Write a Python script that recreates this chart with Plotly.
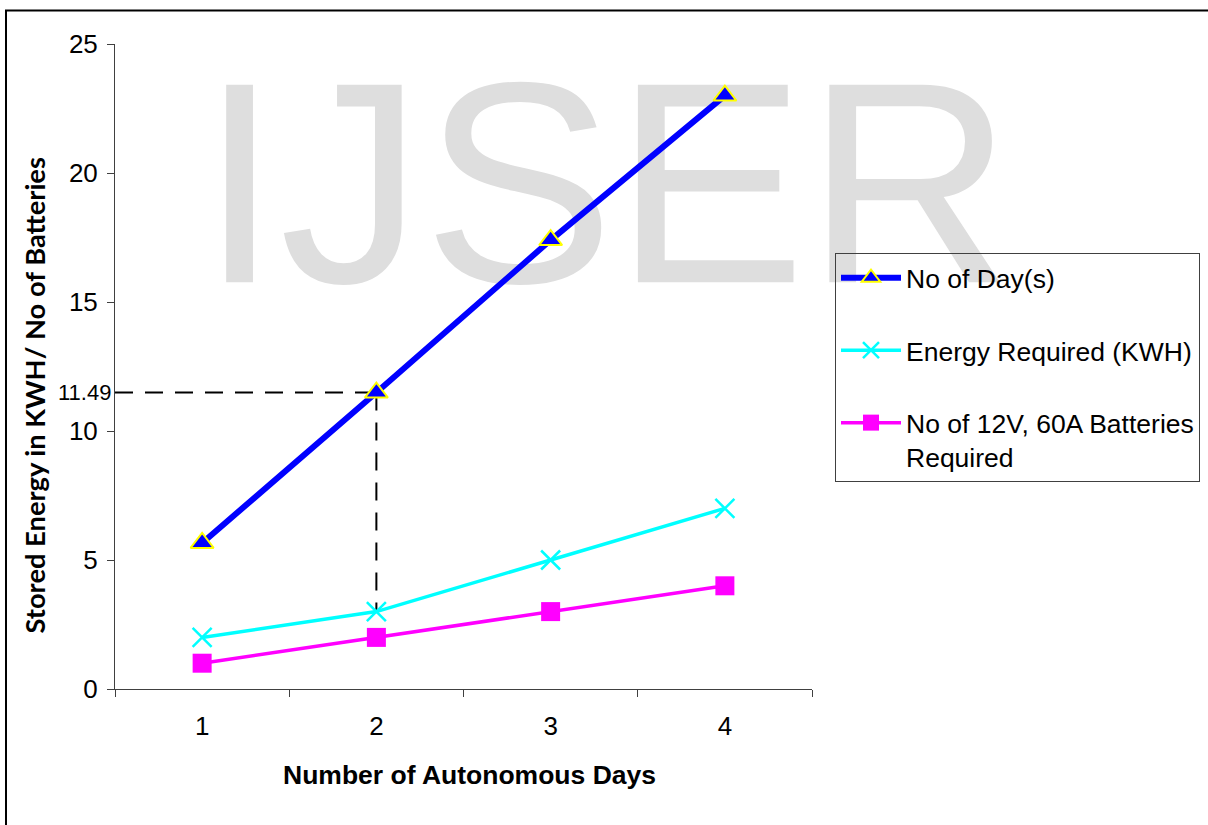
import plotly.graph_objects as go

days = [1, 2, 3, 4]
tick_labels = ["1", "2", "3", "4"]
no_of_days = [5.66, 11.49, 17.4, 23.0]
energy_required = [2, 3, 5, 7]
batteries_required = [1, 2, 3, 4]
marked_value = 11.49
marked_day = 2
marked_energy = 3

names = ["No of Day(s)", "Energy Required (KWH)", "No of 12V, 60A Batteries<br>Required"]

W, H = 1208, 825
ML, MR, MT, MB = 115, 396, 44, 136
PW, PH = W - ML - MR, H - MT - MB

def px_x(p):
    return (p - ML) / PW

def px_y(p):
    return 1 - (p - MT) / PH

FONT = "Liberation Sans, Arial"

fig = go.Figure()

# watermark (drawn first so it sits under the data)
fig.add_trace(go.Scatter(
    x=[3.32], y=[18.55], mode="text", text=["IJSER"],
    textfont=dict(family=FONT, size=287, color="#DEDEDE"),
    textposition="middle center", cliponaxis=False, hoverinfo="skip", showlegend=False))

fig.add_trace(go.Scatter(
    x=days, y=no_of_days, name=names[0], mode="lines+markers", legendgroup="a",
    line=dict(color="#0000FF", width=6),
    marker=dict(symbol="triangle-up", size=20, color="#0000FF",
                line=dict(color="#FFFF00", width=2)),
    cliponaxis=False))
fig.add_trace(go.Scatter(
    x=days, y=energy_required, name=names[1], mode="lines+markers", legendgroup="b",
    line=dict(color="#00FFFF", width=3.5),
    marker=dict(symbol="x-thin", size=19, color="#00FFFF",
                line=dict(color="#00FFFF", width=2.5)),
    cliponaxis=False))
fig.add_trace(go.Scatter(
    x=days, y=batteries_required, name=names[2], mode="lines+markers", legendgroup="c",
    line=dict(color="#FF00FF", width=3.5),
    marker=dict(symbol="square", size=19, color="#FF00FF"),
    cliponaxis=False))

shapes = [
    dict(type="line", xref="x", yref="y", x0=0.5, x1=marked_day, y0=marked_value, y1=marked_value,
         line=dict(color="black", width=2, dash="18px,12px"), layer="below"),
    dict(type="line", xref="x", yref="y", x0=marked_day, x1=marked_day, y0=marked_value, y1=marked_energy,
         line=dict(color="black", width=2, dash="18px,12px"), layer="below"),
    dict(type="rect", xref="paper", yref="paper",
         x0=px_x(6), x1=px_x(W + 10), y0=px_y(H + 10), y1=px_y(10.5),
         line=dict(color="black", width=2), fillcolor="rgba(0,0,0,0)", layer="above"),
]

annotations = [
    dict(text="11.49", xref="x", yref="y", x=0.5, y=marked_value, xanchor="right", yanchor="middle",
         xshift=-2, showarrow=False, font=dict(family=FONT, size=22, color="black")),
    dict(text="<b>Stored Energy in KWH/ No of Batteries</b>", xref="paper", yref="paper",
         x=px_x(34), y=px_y(395.5), textangle=-90, xanchor="center", yanchor="middle",
         showarrow=False, font=dict(family="Lato, Liberation Sans", size=27.3, color="black")),
    dict(text="<b>Number of Autonomous Days</b>", xref="paper", yref="paper",
         x=px_x(470), y=px_y(775), xanchor="center", yanchor="middle",
         showarrow=False, font=dict(family=FONT, size=26.5, color="black")),
]

fig.update_layout(
    width=W, height=H,
    margin=dict(l=ML, r=MR, t=MT, b=MB, pad=0, autoexpand=False),
    paper_bgcolor="white", plot_bgcolor="white",
    showlegend=True,
    legend=dict(x=px_x(835), y=px_y(253), xanchor="left", yanchor="top",
                bgcolor="rgba(0,0,0,0)", bordercolor="#404040", borderwidth=1,
                font=dict(family=FONT, size=26.5, color="black"),
                tracegroupgap=35, itemwidth=60, valign="top"),
    shapes=shapes, annotations=annotations,
    xaxis=dict(range=[0.5, 4.5], tickvals=days, ticktext=tick_labels, ticks="",
               showgrid=False, zeroline=False, showline=True, linecolor="#404040", linewidth=1,
               tickfont=dict(family=FONT, size=26, color="black"),
               ticklabelstandoff=14,
               minor=dict(tickvals=[0.5, 1.5, 2.5, 3.5, 4.5], ticks="outside", ticklen=7,
                          tickcolor="#404040", tickwidth=1, showgrid=False)),
    yaxis=dict(range=[0, 25], dtick=5, ticks="outside", ticklen=7, tickcolor="#404040",
               showgrid=False, zeroline=False, showline=True, linecolor="#404040", linewidth=1,
               tickfont=dict(family=FONT, size=26, color="black"),
               ticklabelstandoff=4),
)

fig.write_html("out.html", config={"displayModeBar": False},
               post_script="document.body.style.margin='0px';")
